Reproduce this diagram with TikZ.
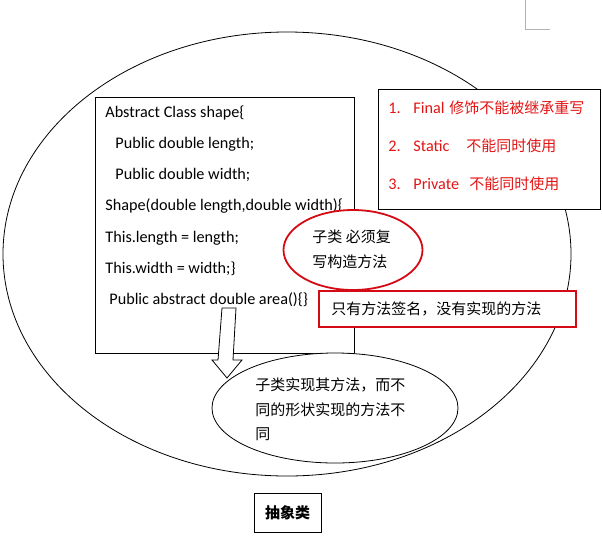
\documentclass[tikz,border=0pt]{standalone}
\usepackage{fontspec}
\setmainfont{Carlito}
\newfontfamily\cjk{Noto Sans CJK SC}
\usetikzlibrary{shapes.geometric}
\definecolor{listred}{RGB}{228,20,20}
\definecolor{borderred}{RGB}{212,10,20}

\begin{document}
\begin{tikzpicture}[x=1pt,y=-1pt,line width=0.8pt,
  codeline/.style={anchor=base west,inner sep=0pt,font=\fontsize{16.2}{19}\selectfont},
  hanzi/.style={anchor=base west,inner sep=0pt,font=\cjk\fontsize{15}{18}\selectfont},
  redline/.style={codeline,text=listred},
  redhanzi/.style={hanzi,text=listred},
  redbox/.style={draw=borderred,line width=1.8pt,fill=white}]
\useasboundingbox (0,0) rectangle (602,539);
% page corner mark
\draw[gray!60] (525,0) -- (525,29) -- (550,29);
% the whole abstract class
\node (outer) [ellipse,draw,minimum width=568pt,minimum height=444pt] at (287,254) {};
% class body
\node (classbox) [draw,minimum width=259pt,minimum height=256pt] at (224.5,225) {};
\node (l1) [codeline] at (105,117) {Abstract Class shape\{};
\node (l2) [codeline] at (115,148) {Public double length;};
\node (l3) [codeline] at (115,179) {Public double width;};
\node (l4) [codeline] at (105,210) {Shape(double length,double width)\{};
\node (l5) [codeline] at (105,242) {This.length = length;};
\node (l6) [codeline] at (105,273) {This.width = width;\}};
\node (l7) [codeline] at (109,304) {Public abstract double area()\{\}};
% modifiers
\node (rules) [draw,fill=white,minimum width=222pt,minimum height=120pt] at (489.5,149) {};
\node (n1) [redline] at (388,113) {1.};
\node (r1) [redline] at (413,113) {Final};
\node (h1) [redhanzi] at (449,113) {修饰不能被继承重写};
\node (n2) [redline] at (388,151) {2.};
\node (r2) [redline] at (413,151) {Static};
\node (h2) [redhanzi] at (466,151) {不能同时使用};
\node (n3) [redline] at (388,189) {3.};
\node (r3) [redline] at (413,189) {Private};
\node (h3) [redhanzi] at (469,189) {不能同时使用};
% constructor note
\node (must) [ellipse,redbox,minimum width=139pt,minimum height=80pt] at (353,250) {};
\node (m1) [hanzi] at (312,242) {子类 必须复};
\node (m2) [hanzi] at (312,267) {写构造方法};
% signature note
\node (sig) [redbox,minimum width=257pt,minimum height=36pt] at (447.5,309) {};
\node (s1) [hanzi] at (331,314) {只有方法签名，没有实现的方法};
% subclass note
\node (impl) [ellipse,draw,fill=white,minimum width=246pt,minimum height=110pt] at (335,408) {};
\node (i1) [hanzi] at (255,390) {子类实现其方法，而不};
\node (i2) [hanzi] at (255,415) {同的形状实现的方法不};
\node (i3) [hanzi] at (255,439) {同};
% hollow arrow
\filldraw[fill=white] (222,308) -- (236,308) -- (233,360) -- (242,360) -- (227,378)
  -- (212,360) -- (218,360) -- cycle;
% caption
\node (title) [draw,minimum width=67pt,minimum height=39pt,
  font=\cjk\bfseries\fontsize{15}{18}\selectfont] at (287.5,512.5) {抽象类};
\end{tikzpicture}
\end{document}
